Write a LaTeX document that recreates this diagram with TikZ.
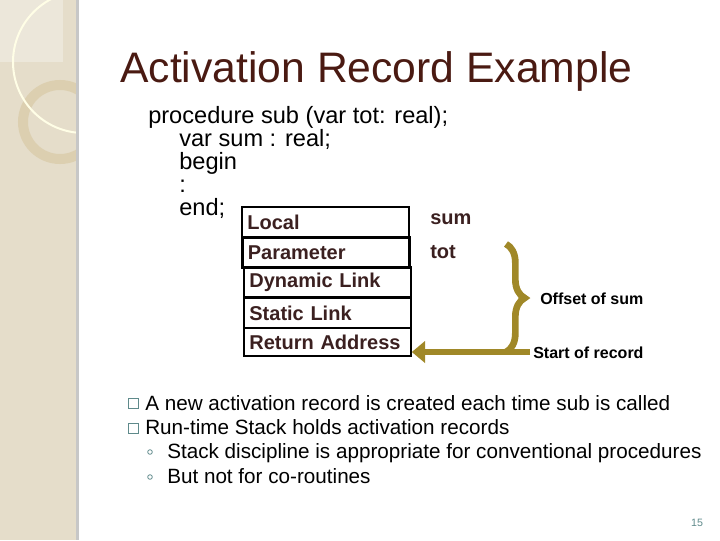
\documentclass[tikz,border=0pt]{standalone}
\usepackage{fontspec}
\setmainfont{Liberation Sans}
\usetikzlibrary{decorations.pathreplacing,arrows.meta}
\definecolor{sidebar}{HTML}{E5DDCA}
\definecolor{ringcol}{HTML}{DCCFB0}
\definecolor{titlecol}{HTML}{4A1A12}
\definecolor{cellcol}{HTML}{3B2020}
\definecolor{gold}{HTML}{A08828}
\definecolor{bulletcol}{HTML}{5F8A8B}
\tikzset{
	cell/.style={draw=black,line width=1.6pt,minimum width=125pt,minimum height=22.5pt,anchor=north west,
		inner xsep=4pt,inner ysep=0pt,text=cellcol,font=\bfseries\fontsize{15}{15}\selectfont,align=left,text width=117pt},
	codeline/.style={anchor=base west,font=\fontsize{17.7}{18}\selectfont,inner sep=0pt},
	bullet/.style={anchor=base west,font=\fontsize{15.5}{16}\selectfont,inner sep=0pt},
	note/.style={anchor=west,font=\bfseries\fontsize{12}{12}\selectfont,inner sep=0pt}
}
\begin{document}
\begin{tikzpicture}[x=0.75pt,y=-0.75pt]
	\useasboundingbox (0,0) rectangle (720,540);
	% sidebar
	\fill[sidebar] (0,0) rectangle (78,540);
	\begin{scope}
		\clip (0,0) rectangle (78,540);
		\fill[white,opacity=.3] (0,0) rectangle (63,62);
		\draw[ringcol,line width=7.5pt] (60,122) circle (37);
		\draw[white!90!yellow,line width=1.5pt] (84,62) circle (71);
	\end{scope}
	\fill[black!22] (76,0) rectangle (79,540);

	% title
	\node[anchor=base west,text=titlecol,font=\fontsize{32}{32}\selectfont,inner sep=0pt] (title) at (120,82) {Activation Record Example};

	% code
	\node[codeline] (c1) at (148,123) {procedure sub (var tot: real);};
	\node[codeline] (c2) at (179,146) {var sum : real;};
	\node[codeline] (c3) at (179,169) {begin};
	\node[codeline] (c4) at (179,192) {:};
	\node[codeline] (c5) at (179,215) {end;};

	% record
	\node[cell] (loc) at (241,206) {Local};
	\node[cell,line width=2.2pt] (par) at (241,236) {Parameter};
	\node[cell] (dyn) at (243,266) {Dynamic Link};
	\node[cell,minimum width=123.75pt] (sta) at (243,297) {Static Link};
	\node[cell,minimum width=123.75pt,minimum height=21pt] (ret) at (243,327) {Return Address};

	\node[anchor=base west,inner sep=0pt,text=cellcol,font=\bfseries\fontsize{15}{15}\selectfont] (sum) at (430,224) {sum};
	\node[anchor=base west,inner sep=0pt,text=cellcol,font=\bfseries\fontsize{15}{15}\selectfont] (tot) at (430,258) {tot};

	% brace and arrow
	\coordinate (btop) at (506,244);
	\coordinate (bbot) at (506,352);
	\draw[gold,line width=5pt,decorate,decoration={brace,amplitude=14pt}] (btop) -- (bbot);
	\coordinate (aend) at (530,352);
	\draw[gold,line width=5pt,-{Triangle[length=10pt,width=16pt]}] (aend) -- (aend -| ret.east);
	\node[note] (off) at (540,299) {Offset of sum};
	\node[note] (start) at (533,353) {Start of record};

	% bullets
	\node[bullet] (b1) at (145,410) {A new activation record is created each time sub is called};
	\node[bullet] (b2) at (145,434) {Run-time Stack holds activation records};
	\node[bullet] (s1) at (167,458) {Stack discipline is appropriate for conventional procedures};
	\node[bullet] (s2) at (167,483) {But not for co-routines};
	\foreach \y in {403,428}
		\draw[bulletcol,line width=.5pt] (128,\y-5) rectangle +(10,10);
	\foreach \y in {452,477}
		\draw[bulletcol,line width=.6pt] (150,\y) circle (2.3);

	% page number
	\node[text=bulletcol,font=\fontsize{8}{8}\selectfont] (pg) at (697,523) {15};
\end{tikzpicture}
\end{document}
